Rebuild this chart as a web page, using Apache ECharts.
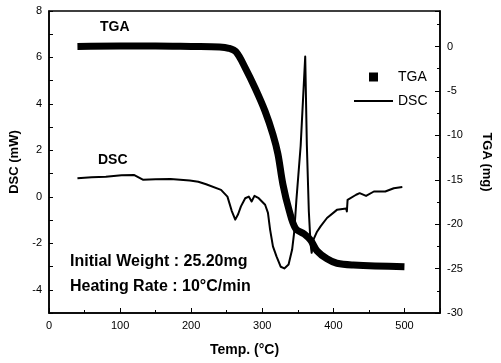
<!DOCTYPE html>
<html>
<head>
<meta charset="utf-8">
<script src="https://cdn.jsdelivr.net/npm/echarts@6/dist/echarts.min.js"></script>
<style>
html,body{margin:0;padding:0;background:#fff;}
#c{width:501px;height:363px;}
</style>
</head>
<body>
<div id="c"></div>
<script>
// ---- data ----
const dscTemp = [40, 60, 80, 102, 120, 132, 150, 171, 198, 210, 221, 242, 251, 257, 262, 266, 270, 276, 281, 285, 289, 295, 304, 308, 311, 315, 320, 326, 331, 337, 342, 345, 348, 354, 360.4, 362.7, 365.5, 368, 369.5, 372, 377, 382, 391, 405, 418, 419, 420, 432, 437, 446, 457, 473, 485, 497];
const dscVal  = [0.80, 0.84, 0.86, 0.93, 0.94, 0.74, 0.76, 0.77, 0.70, 0.65, 0.54, 0.30, 0.01, -0.6, -0.98, -0.75, -0.41, -0.06, 0.01, -0.2, 0.04, -0.06, -0.34, -0.69, -1.41, -2.13, -2.56, -3.01, -3.08, -2.91, -2.27, -1.5, -0.13, 2.2, 6.04, 2.23, -0.63, -2.06, -2.41, -1.84, -1.5, -1.27, -0.91, -0.56, -0.5, -0.63, -0.13, 0.09, 0.16, 0.04, 0.23, 0.23, 0.37, 0.42];
const tgaTemp = [40, 100, 150, 200, 240, 253, 263, 276, 290, 304, 315, 322, 329, 338, 347, 359, 368, 377, 391, 405, 428, 500];
const tgaVal  = [0, 0.05, 0.05, 0, -0.05, -0.2, -0.6, -2.4, -4.7, -7.3, -9.9, -12.1, -15.5, -18.5, -20.5, -21.1, -21.8, -23.0, -23.9, -24.4, -24.6, -24.8];
const xTicks = [0, 100, 200, 300, 400, 500];
const leftTicks = [-4, -2, 0, 2, 4, 6, 8];
const rightTicks = [-30, -25, -20, -15, -10, -5, 0];

const dscData = dscTemp.map((t, i) => [t, dscVal[i]]);
const tgaData = tgaTemp.map((t, i) => [t, tgaVal[i]]);

const chart = echarts.init(document.getElementById('c'), null, {renderer: 'canvas'});
const axisFont = {fontFamily: 'Liberation Sans, Arial, sans-serif', fontSize: 11, color: '#000'};
const nameFont = {fontFamily: 'Liberation Sans, Arial, sans-serif', fontSize: 13, fontWeight: 'bold', color: '#000'};
const boldText = (txt, x, y, size) => ({
  type: 'text', left: x, top: y,
  style: {text: txt, font: 'bold ' + size + 'px "Liberation Sans", Arial, sans-serif', fill: '#000'}
});

chart.setOption({
  animation: false,
  backgroundColor: '#fff',
  grid: {left: 49, right: 51, top: 11, bottom: 50, show: true, borderColor: '#000', borderWidth: 1.5, backgroundColor: 'transparent'},
  legend: {
    left: 354, top: 70, orient: 'vertical', padding: 0, itemWidth: 39, itemHeight: 9, itemGap: 10,
    textStyle: {fontFamily: 'Liberation Sans, Arial, sans-serif', fontSize: 14, color: '#000'},
    data: [
      {name: 'TGA', icon: 'path://M0,0H10V10H0Z', itemStyle: {color: '#000'}},
      {name: 'DSC', icon: 'path://M0,0H40V2H0Z', itemStyle: {color: '#000'}}
    ]
  },
  xAxis: {
    type: 'value', min: 0, max: 550, interval: 100,
    name: 'Temp. (°C)', nameLocation: 'middle', nameGap: 30, nameTextStyle: Object.assign({}, nameFont, {fontSize: 14}),
    axisLine: {onZero: false, lineStyle: {color: '#000', width: 1.5}},
    axisTick: {inside: true, length: 5, lineStyle: {color: '#000'}},
    minorTick: {show: true, splitNumber: 2, length: 3, lineStyle: {color: '#000'}},
    axisLabel: Object.assign({}, axisFont, {margin: 7, formatter: v => xTicks.includes(v) ? String(v) : ''}),
    splitLine: {show: false}
  },
  yAxis: [
    {
      type: 'value', min: -5, max: 8, interval: 1, position: 'left',
      name: 'DSC (mW)', nameLocation: 'middle', nameGap: 23, nameTextStyle: nameFont,
      axisLine: {show: true, onZero: false, lineStyle: {color: '#000', width: 1.5}},
      axisTick: {show: true, inside: true, length: 4, lineStyle: {color: '#000'}},
      axisLabel: Object.assign({}, axisFont, {margin: 7, formatter: v => leftTicks.includes(v) ? String(v) : ''}),
      splitLine: {show: false}
    },
    {
      type: 'value', min: -30, max: 4, interval: 5, position: 'right',
      name: 'TGA (mg)', nameLocation: 'middle', nameGap: 40, nameRotate: -90, nameTextStyle: nameFont,
      axisLine: {show: true, onZero: false, lineStyle: {color: '#000', width: 1.5}},
      axisTick: {show: true, inside: true, length: 5, lineStyle: {color: '#000'}},
      minorTick: {show: true, splitNumber: 2, length: 3, lineStyle: {color: '#000'}},
      axisLabel: Object.assign({}, axisFont, {margin: 7, formatter: v => rightTicks.includes(v) ? String(v) : ''}),
      splitLine: {show: false}
    }
  ],
  series: [
    {
      name: 'TGA', type: 'line', yAxisIndex: 1, data: tgaData,
      showSymbol: false, symbol: 'none', smooth: 0.35,
      lineStyle: {color: '#000', width: 7, join: 'round'}, itemStyle: {color: '#000'}
    },
    {
      name: 'DSC', type: 'line', yAxisIndex: 0, data: dscData,
      showSymbol: false, symbol: 'none',
      lineStyle: {color: '#000', width: 2, join: 'round'}, itemStyle: {color: '#000'}
    }
  ],
  graphic: [
    boldText('TGA', 100, 20, 14),
    boldText('DSC', 98, 153, 14),
    boldText('Initial Weight : 25.20mg', 70, 254, 16),
    boldText('Heating Rate : 10°C/min', 70, 279, 16)
  ]
});
</script>
</body>
</html>
